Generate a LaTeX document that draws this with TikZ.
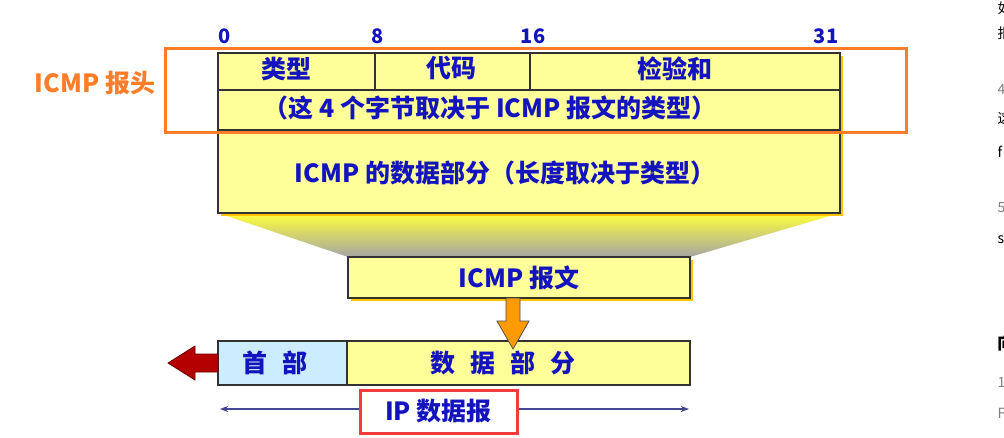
\documentclass[tikz,border=0pt]{standalone}
\usepackage{fontspec}
\setmainfont{Noto Sans CJK SC}
\usepackage{tikz}
\usetikzlibrary{positioning, calc, arrows.meta, backgrounds}

\definecolor{icmpblue}{RGB}{20,20,190}
\definecolor{hdrorange}{RGB}{255,125,40}
\definecolor{cellyellow}{RGB}{255,255,153}
\definecolor{shadowgold}{RGB}{255,195,0}
\definecolor{cellblue}{RGB}{204,236,255}
\definecolor{framered}{RGB}{240,60,60}
\definecolor{arrowred}{RGB}{180,0,0}
\definecolor{arroworange}{RGB}{255,155,0}
\definecolor{spanline}{RGB}{70,70,150}
\definecolor{edgegray}{RGB}{50,50,50}
\definecolor{funneltop}{RGB}{255,255,60}
\definecolor{funnelbot}{RGB}{165,165,165}

\begin{document}
\begin{tikzpicture}[
    x=1pt, y=-1pt,
    >=Stealth,
    cell/.style={draw=edgegray, line width=1.3pt, fill=cellyellow, anchor=north west, inner sep=0pt, outer sep=0pt},
    txt/.style={font=\fontsize{25}{28}\selectfont\bfseries, text=icmpblue, inner sep=0pt},
    bit/.style={font=\fontsize{20}{22}\selectfont\bfseries, text=icmpblue, inner sep=0pt, anchor=base},
    shadow/.style={fill=shadowgold},
    frame/.style={line width=3pt},
    blockarr/.style={line width=0.8pt, line join=miter},
    web/.style={font=\fontsize{14}{16}\selectfont, anchor=west, inner sep=0pt},
]

% ===== Canvas =====
\useasboundingbox (0,0) rectangle (1004,437);

% ===== ICMP header and data =====
\node[cell, minimum width=157pt, minimum height=37pt] (type) at (218,53) {};
\node[cell, minimum width=155pt, minimum height=37pt] (code) at (type.north east) {};
\node[cell, minimum width=310pt, minimum height=37pt] (cksum) at (code.north east) {};
\node[cell, minimum width=622pt, minimum height=40pt] (rest) at (type.south west) {};
\node[cell, minimum width=622pt, minimum height=83pt] (data) at (rest.south west) {};

\node[txt] (typelbl) at ($(type.center)+(-10,-3)$) {类型};
\node[txt] (codelbl) at ($(code.center)+(-1,-3)$) {代码};
\node[txt] (cksumlbl) at ($(cksum.center)+(-10,-3)$) {检验和};
\node[txt] (restlbl) at ($(rest.center)+(-39,-2)$) {（这 4 个字节取决于 ICMP 报文的类型）};
\node[txt] (datalbl) at ($(data.center)+(-24,1)$) {ICMP 的数据部分（长度取决于类型）};

% bit positions
\node[bit] (b0) at ($(type.north west)+(7,-10)$) {0};
\node[bit] (b8) at ($(code.north west)+(3,-10)$) {8};
\node[bit] (b16) at ($(cksum.north west)+(3,-10)$) {16};
\node[bit] (b31) at ($(cksum.north east)+(-14,-10)$) {31};

% ===== ICMP message =====
\node[cell, txt, minimum width=342pt, minimum height=41pt] (msg) at (348,257) {ICMP 报文};

% ===== Funnel and shadows =====
\begin{scope}[on background layer]
    \fill[white] (0,0) rectangle (1004,437);
    \shade[top color=funneltop, bottom color=funnelbot] (data.south west) -- (data.south east) -- (msg.north east) -- (msg.north west) -- cycle;
    \fill[shadow] ($(type.north west)+(3,3)$) rectangle ($(data.south east)+(3,3)$);
    \fill[shadow] ($(msg.north west)+(3,3)$) rectangle ($(msg.south east)+(3,3)$);
\end{scope}

% ===== Header frame =====
\draw[frame, draw=hdrorange] ($(type.north west)+(-53,-5)$) rectangle ($(rest.south east)+(66,2)$);
\node[txt, text=hdrorange] (hdrname) at (95,83) {ICMP 报头};

% ===== IP datagram =====
\node[cell, fill=cellblue, minimum width=129pt, minimum height=44pt] (iphdr) at (218,341) {};
\node[cell, minimum width=343pt, minimum height=44pt] (ipdata) at (iphdr.north east) {};
\node[txt] (iphdrlbl) at ($(iphdr.center)+(-8,0)$) {首\hspace{0.6em}部};
\node[txt] (ipdatalbl) at ($(ipdata.center)+(-16,0)$) {数\hspace{0.6em}据\hspace{0.6em}部\hspace{0.6em}分};

% orange arrow: message goes into the data part
\filldraw[blockarr, fill=arroworange, draw=black!70] ($(msg.south)+(-13,0)$) -- ++(0,23) -- ++(-9,0) -- ++(16,28) -- ++(16,-28) -- ++(-9,0) -- ++(0,-23) -- cycle;

% red arrow: header leaves to the left
\filldraw[blockarr, fill=arrowred, draw=arrowred!60!black] ($(iphdr.west)+(0,-9)$) -- ++(-23,0) -- ++(0,-8) -- ++(-27,17) -- ++(27,17) -- ++(0,-8) -- ++(23,0) -- cycle;

% span of the datagram
\coordinate (spanl) at ($(iphdr.south west)+(2,24)$);
\coordinate (spanr) at ($(ipdata.south east)+(-1,24)$);
\draw[<->, spanline, line width=1.2pt] (spanl) -- (spanr);
\node[txt, draw=framered, line width=3pt, fill=white, minimum width=157pt, minimum height=43pt] (iplbl) at (438.5,411.5) {IP 数据报};

% ===== Clipped page text on the right =====
\begin{scope}
    \clip (0,0) rectangle (1004,437);
    \foreach \yy/\ch/\cc in {8/如/black, 33/报/black, 90/4/gray, 118/这/black, 152/f/black, 208/5/gray, 240/s/black, 383/1/gray, 413/F/gray}
        \node[web, text=\cc] (web\yy) at (997.5,\yy) {\ch};
    \node[web, font=\fontsize{18}{20}\selectfont\bfseries] (webhead) at (997.5,343) {向};
\end{scope}

\end{tikzpicture}
\end{document}
